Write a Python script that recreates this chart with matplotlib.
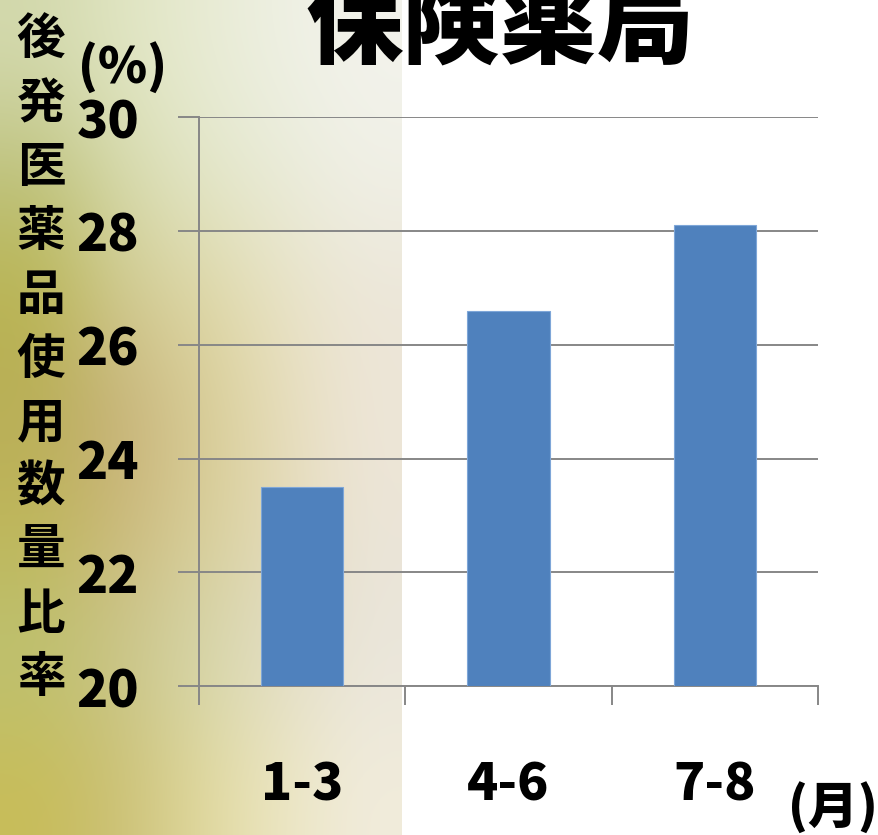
import numpy as np
import matplotlib
matplotlib.use('Agg')
import matplotlib.pyplot as plt
from matplotlib.colors import to_rgb

plt.rcParams['font.family'] = ['Noto Sans CJK JP', 'DejaVu Sans']

# 期間別の後発医薬品使用数量比率 (%)
periods = ['1-3', '4-6', '7-8']
ratio = [23.5, 26.6, 28.1]
yticks = [20, 22, 24, 26, 28, 30]

fig = plt.figure(figsize=(8.79, 8.35), dpi=100)

# 左側の背景 (ぼかした写真風のグラデーション)
bg_cols = [
    ['#d3d9ad', '#e0e5c2', '#e8ebd3', '#eef0e3', '#f3f3ec'],
    ['#bcc07a', '#d5d9aa', '#e2e6c8', '#e9ebd8', '#f0f0e6'],
    ['#b9b44e', '#d0ca90', '#ddd6a2', '#e8e2c4', '#ece6d8'],
    ['#b8ad58', '#c6ae78', '#d6cb92', '#e6dcb8', '#eee6d8'],
    ['#c0b858', '#ccb97c', '#d8cf98', '#e4dab8', '#ebe5d8'],
    ['#bcc274', '#cac68c', '#d4d6ab', '#e2ddc6', '#eae6dc'],
    ['#c8bd58', '#cbc076', '#e0d89c', '#ece6c2', '#f1ecdc'],
]
grid = np.array([[to_rgb(c) for c in row] for row in bg_cols])
bg = fig.add_axes([0, 0, 402 / 879, 1], zorder=-1)
bg.imshow(grid, aspect='auto', interpolation='bicubic',
          extent=[0, 1, 0, 1], origin='upper')
bg.axis('off')

ax = fig.add_axes([199 / 879, 148.7 / 835, 619 / 879, 569 / 835])
ax.patch.set_alpha(0)

x = np.arange(len(periods))
ax.bar(x, ratio, width=0.4, color='#4f81bd', edgecolor='#7ea6d8',
       linewidth=0.8, zorder=3)

ax.set_xlim(-0.5, len(periods) - 0.5)
ax.set_ylim(20, 30)
ax.set_yticks(yticks)
ax.set_yticklabels([str(v) for v in yticks], fontsize=37, fontweight='heavy')
ax.yaxis.grid(True, color='#878787', linewidth=1.4, zorder=1)

ax.set_xticks(x)
ax.set_xticklabels(periods, fontsize=37, fontweight='heavy')
ax.set_xticks(np.arange(-0.5, len(periods)), minor=True)
ax.tick_params(axis='x', which='major', length=0, pad=52)
ax.tick_params(axis='x', which='minor', length=14, width=1.4, color='#878787')
ax.tick_params(axis='y', length=15, width=1.4, color='#878787', pad=28)

for s in ['top', 'right']:
    ax.spines[s].set_visible(False)
for s in ['left', 'bottom']:
    ax.spines[s].set_color('#878787')
    ax.spines[s].set_linewidth(1.4)

fig.text(500 / 879, 1 - 26 / 835, '保険薬局', fontsize=70, fontweight='heavy',
         ha='center', va='center')

label = '後発医薬品使用数量比率'
for i, ch in enumerate(label):
    fig.text(41 / 879, 1 - (40 + i * 63.8) / 835, ch, fontsize=35,
             fontweight='bold', ha='center', va='center')

fig.text(123 / 879, 1 - 68 / 835, '(%)', fontsize=36, fontweight='heavy',
         ha='center', va='center')
fig.text(833 / 879, 1 - 808 / 835, '(月)', fontsize=36, fontweight='heavy',
         ha='center', va='center')

fig.savefig('out.png', dpi=100)
